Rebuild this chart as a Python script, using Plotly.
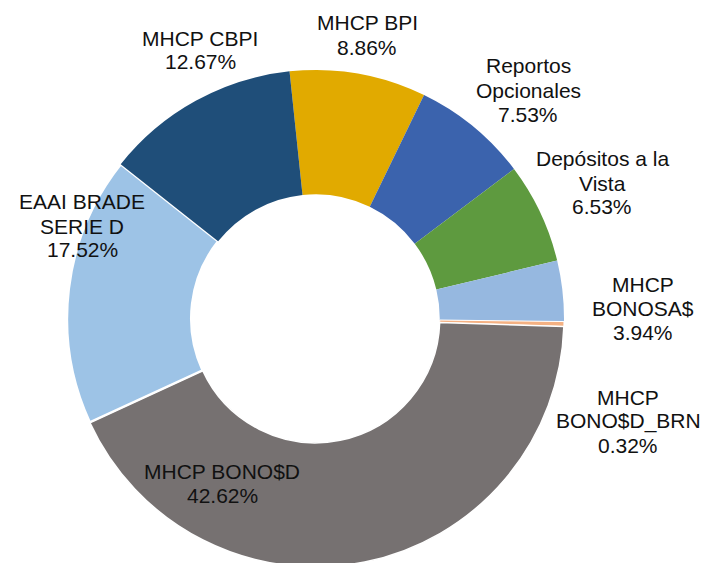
import plotly.graph_objects as go

# ---- data ----
labels = ["MHCP BPI", "Reportos Opcionales", "Depósitos a la Vista", "MHCP BONOSA$",
          "MHCP BONO$D_BRN", "MHCP BONO$D", "EAAI BRADE SERIE D", "MHCP CBPI"]
values = [8.86, 7.53, 6.53, 3.94, 0.32, 42.62, 17.52, 12.67]
label_lines = [["MHCP BPI"], ["Reportos", "Opcionales"], ["Depósitos a la", "Vista"],
               ["MHCP", "BONOSA$"], ["MHCP", "BONO$D_BRN"], ["MHCP BONO$D"],
               ["EAAI BRADE", "SERIE D"], ["MHCP CBPI"]]

# ---- styles / layout ----
colors = ["#E1AA00", "#3B63AD", "#5E9A3F", "#96B8E0", "#F4B183", "#767171", "#9DC3E6", "#1F4E79"]
border_widths = [0, 0, 0, 0, 1, 1.5, 2.5, 0]
W, H = 704, 567  # ring is slightly cropped at the bottom of the 563 px window
ML, MR, MT, MB = 67, 140, 70, 0
# label block centers in pixels (layout positions)
label_pos = [(367, 35), (528, 90), (602, 183), (643, 308), (628, 421), (222, 483), (82, 226), (200, 50)]
LINE_H = 24
FONT = dict(family="Liberation Sans, Arial, sans-serif", size=21, color="#111111")

fig = go.Figure(go.Pie(
    labels=labels, values=values, sort=False, direction="clockwise", rotation=-6,
    hole=0.5, marker=dict(colors=colors, line=dict(color="white", width=border_widths)),
    textinfo="none", hoverinfo="label+percent", showlegend=False,
))

pw, ph = W - ML - MR, H - MT - MB
annotations = []
for lines, v, (cx, cy) in zip(label_lines, values, label_pos):
    all_lines = lines + [f"{v:.2f}%"]
    n = len(all_lines)
    for i, t in enumerate(all_lines):
        py = cy + (i - (n - 1) / 2) * LINE_H
        annotations.append(dict(
            text=t, x=(cx - ML) / pw, y=1 - (py - MT) / ph, xref="paper", yref="paper",
            showarrow=False, xanchor="center", yanchor="middle", font=FONT))

fig.update_layout(
    width=W, height=H, margin=dict(l=ML, r=MR, t=MT, b=MB),
    paper_bgcolor="white", plot_bgcolor="white", annotations=annotations,
)
fig.write_html("out.html", config={"displayModeBar": False},
               post_script="document.body.style.margin='0';document.body.style.overflow='hidden';")
